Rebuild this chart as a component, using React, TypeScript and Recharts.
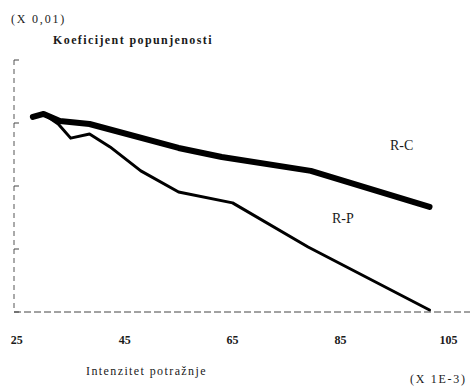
import { LineChart, Line, XAxis, YAxis } from 'recharts'

// koeficijent popunjenosti (x 0,01) vs intenzitet potražnje (x 1E-3)
const rcX = [28, 30, 33, 38.5, 55, 63, 79.5, 101.5]
const rcY = [77.4, 78.6, 75.8, 74.6, 65.1, 61.5, 56.0, 41.7]
const rpX = [28, 30, 32.7, 35, 38.5, 42.3, 48, 55, 65, 79, 101.5]
const rpY = [77.4, 78.6, 74.6, 69.0, 70.6, 65.5, 56.0, 47.6, 43.3, 25.8, 0.8]
const xTicks = [25, 45, 65, 85, 105]
const yTicks = [0, 25, 50, 75, 100]

const rcData = rcX.map((x, i) => ({ x, y: rcY[i] }))
const rpData = rpX.map((x, i) => ({ x, y: rpY[i] }))

const ink = '#1a1a1a'
const serif = '"Liberation Serif", "DejaVu Serif", serif'

export default function App() {
  return (
    <div style={{ position: 'absolute', left: 0, top: 0, width: 470, height: 388, background: '#fff', fontFamily: serif, color: ink }}>
      <LineChart width={470} height={388} margin={{ top: 60, right: 0, bottom: 46, left: 14 }}>
        <XAxis
          type="number" dataKey="x" domain={[24.5, 109]} ticks={xTicks} interval={0}
          axisLine={{ stroke: '#444', strokeDasharray: '7 3', strokeWidth: 1 }}
          tickLine={false} tickSize={0} tickMargin={23} height={30}
          tick={{ fontSize: 12, fill: ink, fontFamily: serif, fontWeight: 700 }}
          allowDataOverflow
        />
        <YAxis
          type="number" dataKey="y" domain={[0, 100]} ticks={yTicks} width={14}
          axisLine={{ stroke: '#555', strokeDasharray: '5 4', strokeWidth: 1 }}
          tickLine={{ stroke: '#444' }} tickSize={5} mirror
          tick={() => <g />}
        />
        <Line data={rcData} dataKey="y" type="linear" stroke="#000" strokeWidth={6} dot={false} isAnimationActive={false} strokeLinejoin="round" strokeLinecap="round" />
        <Line data={rpData} dataKey="y" type="linear" stroke="#000" strokeWidth={3} dot={false} isAnimationActive={false} strokeLinejoin="round" strokeLinecap="round" />
      </LineChart>

      {/* natpisi */}
      <div style={{ position: 'absolute', left: 11, top: 12, fontSize: 12, letterSpacing: 1.8 }}>(X 0,01)</div>
      <div style={{ position: 'absolute', left: 53, top: 33, fontSize: 12, fontWeight: 700, letterSpacing: 1.4 }}>Koeficijent popunjenosti</div>
      <div style={{ position: 'absolute', left: 390, top: 138, fontSize: 14 }}>R-C</div>
      <div style={{ position: 'absolute', left: 332, top: 211, fontSize: 14 }}>R-P</div>
      <div style={{ position: 'absolute', left: 86, top: 364, fontSize: 12, letterSpacing: 1.4 }}>Intenzitet potražnje</div>
      <div style={{ position: 'absolute', left: 410, top: 372, fontSize: 12, letterSpacing: 1.7 }}>(X 1E-3)</div>
    </div>
  )
}
